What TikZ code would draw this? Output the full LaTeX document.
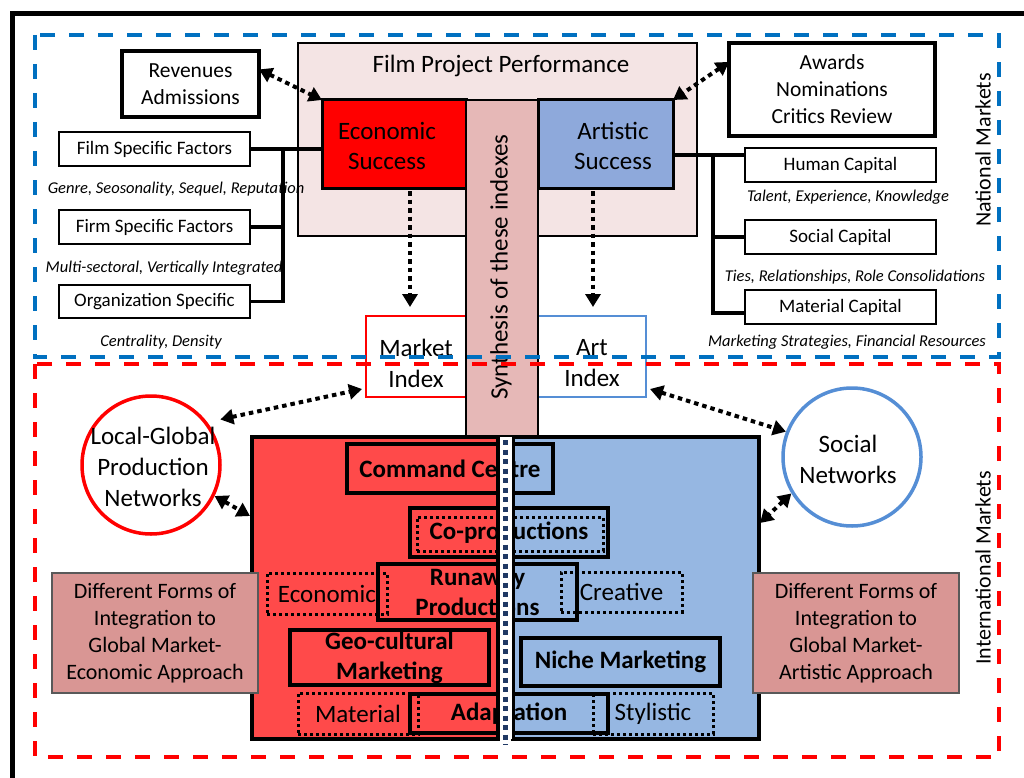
\documentclass[tikz,border=0pt]{standalone}
\usepackage{fontspec}
\setmainfont{Carlito}
\usetikzlibrary{arrows.meta,calc}

\definecolor{fppfill}{RGB}{244,228,228}
\definecolor{synthfill}{RGB}{230,184,183}
\definecolor{econfill}{RGB}{255,0,0}
\definecolor{artfill}{RGB}{142,169,219}
\definecolor{lowred}{RGB}{255,74,74}
\definecolor{lowblue}{RGB}{150,183,226}
\definecolor{formfill}{RGB}{217,150,148}
\definecolor{natblue}{RGB}{0,112,192}
\definecolor{intred}{RGB}{255,0,0}
\definecolor{mktred}{RGB}{255,0,0}
\definecolor{circblue}{RGB}{85,142,213}
\definecolor{navy}{RGB}{31,56,100}

\newcommand\setfs[2]{\fontsize{#1}{#2}\selectfont}

\begin{document}
\begin{tikzpicture}[x=1pt,y=-1pt,
  rbox/.style={draw, anchor=north west, inner sep=0pt, outer sep=0pt, align=center},
  factor/.style={rbox, line width=1.5pt, fill=white, minimum width=191pt, minimum height=34pt, font=\setfs{19}{23}},
  note/.style={inner sep=0pt, font=\itshape\setfs{16.5}{20}},
  bigtext/.style={align=center, inner sep=0pt, font=\setfs{25}{31}},
  inbox/.style={rbox, line width=3.5pt, font=\bfseries\setfs{25}{30}},
  dotbox/.style={rbox, line width=3pt, dash pattern=on 3pt off 3pt, font=\setfs{25}{30}},
  bus/.style={line width=3.5pt},
  tipA/.tip={Triangle[length=13pt,width=15pt]},
  dotlink/.style={line width=4pt, dash pattern=on 4.5pt off 4pt, tipA-tipA},
  dotdown/.style={line width=4pt, dash pattern=on 4.5pt off 4pt, -tipA},
  formbox/.style={rbox, draw=black!65, line width=1.5pt, fill=formfill, minimum width=206pt, minimum height=120pt, font=\setfs{22}{27}},
  region/.style={line width=4pt, dash pattern=on 15pt off 14pt}
]
\useasboundingbox (0,0) rectangle (1024,778);

% outer frame
\draw[line width=5pt] (1024,13.5) -- (12.5,13.5) -- (12.5,778);

% film project performance panel
\node[rbox, fill=fppfill, line width=2.5pt, minimum width=399pt, minimum height=193pt] (fpp) at (298,43) {};
\node[font=\setfs{25}{30}, inner sep=0pt] (fpptitle) at (501,66) {Film Project Performance};
\node[rbox, fill=econfill, line width=3pt, minimum width=144pt, minimum height=88pt] (econ) at (322,100) {};
\node[bigtext, font=\setfs{25}{30}] (econtext) at (387,146) {Economic\\Success};
\node[rbox, fill=artfill, line width=3pt, minimum width=135pt, minimum height=88pt] (art) at (538,100) {};
\node[bigtext, font=\setfs{25}{30}] (arttext) at (613,146) {Artistic\\Success};

% outcome boxes
\node[rbox, line width=3.5pt, fill=white, minimum width=137pt, minimum height=66pt, font=\setfs{21.5}{27}] (rev) at (122,51) {Revenues\\Admissions};
\node[rbox, line width=4pt, fill=white, minimum width=206pt, minimum height=93pt, font=\setfs{21.5}{27}] (awards) at (729,43) {Awards\\Nominations\\Critics Review};

% economic factors
\node[factor] (fsf) at (59,132) {Film Specific Factors};
\node[factor] (firm) at (59,210) {Firm Specific Factors};
\node[factor, minimum height=33pt] (org) at (59,285) {Organization Specific};
\node[note] (fsfnote) at (176,189) {Genre, Seosonality, Sequel, Reputation};
\node[note] (firmnote) at (164,268) {Multi-sectoral, Vertically Integrated};
\node[note] (orgnote) at (161,342) {Centrality, Density};

% artistic factors
\node[factor] (hum) at (745,148) {Human Capital};
\node[factor] (soc) at (745,220) {Social Capital};
\node[factor] (mat) at (745,290) {Material Capital};
\node[note] (humnote) at (848,197) {Talent, Experience, Knowledge};
\node[note] (socnote) at (855,277) {Ties, Relationships, Role Consolidations};
\node[note] (matnote) at (847,342) {Marketing Strategies, Financial Resources};

% factor buses
\coordinate (lbus) at (283,0);
\coordinate (rbus) at (713,0);
\draw[bus] (fsf.east) -- (fsf.east -| econ.west);
\draw[bus] (fsf.east -| lbus) |- (org.east);
\draw[bus] (firm.east) -- (firm.east -| lbus);
\path ($(art.east)+(0,11)$) coordinate (rj);
\draw[bus] (rj) -- (rj -| hum.west);
\draw[bus] (rj -| rbus) |- ($(mat.west)+(0,6)$);
\draw[bus] (soc.west) -- (soc.west -| rbus);

% index boxes
\node[rbox, draw=mktred, line width=2.5pt, fill=white, minimum width=100pt, minimum height=81pt] (mkt) at (366,316) {};
\node[bigtext] (mkttext) at (416,363) {Market\\Index};
\node[rbox, draw=circblue, line width=2.5pt, fill=white, minimum width=108pt, minimum height=81pt] (artidx) at (538,316) {};
\node[bigtext] (artidxtext) at (592,363) {Art\\Index};

% global integration block
\node[rbox, fill=lowred, line width=3.5pt, minimum width=246pt, minimum height=302pt] (red) at (252,437) {};
\node[rbox, fill=lowblue, line width=3.5pt, minimum width=246pt, minimum height=302pt] (blue) at (513,437) {};

\node[inbox, minimum width=206pt, minimum height=49pt] (cmd) at (347,444) {Command Centre};
\node[dotbox, minimum width=186pt, minimum height=34pt] (coprodin) at (417,517) {};
\node[inbox, minimum width=198pt, minimum height=49pt] (coprod) at (410,508) {Co-productions};
\node[dotbox, minimum width=120pt, minimum height=41pt] (ecodot) at (267,573) {Economic};
\node[dotbox, minimum width=121pt, minimum height=40pt] (credot) at (561,572) {Creative};
\node[inbox, minimum width=199pt, minimum height=56pt] (runaway) at (378,564) {Runaway\\Productions};
\node[inbox, minimum width=199pt, minimum height=55pt] (geo) at (290,630) {Geo-cultural\\Marketing};
\node[inbox, minimum width=199pt, minimum height=48pt] (niche) at (521,638) {Niche Marketing};
\node[dotbox, minimum width=120pt, minimum height=41pt] (matdot) at (298,693) {Material};
\node[dotbox, minimum width=120pt, minimum height=41pt] (stydot) at (593,693) {Stylistic};
\node[inbox, minimum width=198pt, minimum height=39pt] (adapt) at (410,694) {Adaptation};

% separating strip
\node[rbox, draw=none, fill=white, minimum width=15pt, minimum height=302pt] (strip) at (498,437) {};
\draw[line width=3pt] (strip.north west) -- (strip.south west);
\draw[line width=3pt] (strip.north east) -- (strip.south east);
\draw[navy, line width=5pt, dash pattern=on 5pt off 4.5pt] ($(strip.north)+(0,3)$) -- ($(strip.south)+(0,6)$);

% synthesis column
\node[rbox, fill=synthfill, line width=2.5pt, minimum width=72pt, minimum height=336pt] (synth) at (466,100) {};
\node[rotate=90, font=\setfs{25}{30}, inner sep=0pt] (synthtext) at (501,267) {Synthesis of these indexes};

% networks
\node[circle, draw=mktred, line width=3.5pt, minimum size=138pt, inner sep=0pt] (lg) at (151,465) {};
\node[bigtext] (lgtext) at (153,467) {Local-Global\\Production\\Networks};
\node[circle, draw=circblue, line width=3.5pt, minimum size=138pt, inner sep=0pt] (sn) at (852,457) {};
\node[bigtext] (sntext) at (848,459) {Social\\Networks};

% integration approaches
\node[formbox] (formL) at (52,573) {Different Forms of\\Integration to\\Global Market-\\Economic Approach};
\node[formbox] (formR) at (753,573) {Different Forms of\\Integration to\\Global Market-\\Artistic Approach};

% dotted links
\draw[dotlink] (rev.12) -- (econ.north west);
\draw[dotlink] (awards.165) -- (art.north east);
\draw[dotdown] ($(econ.south)+(16,3)$) -- ($(mkt.north)+(-6,-9)$);
\draw[dotdown] ($(art.south)+(-12.5,3)$) -- ($(artidx.north)+(1,-9)$);
\draw[dotlink] ($(lg.33)+(10,-7)$) -- ($(mkt.south west)+(-4,-8)$);
\draw[dotlink] (lg.-26) -- ($(red.west)+(-2,-72)$);
\draw[dotlink] ($(artidx.south east)+(4,-8)$) -- (sn.159);
\draw[dotlink] (sn.211) -- ($(blue.east)+(1,-65)$);

% market scopes
\node[rotate=90, font=\setfs{22}{26}, inner sep=0pt] (natlabel) at (983,150) {National Markets};
\node[rotate=90, font=\setfs{22}{26}, inner sep=0pt] (intlabel) at (983,568) {International Markets};
\draw[region, intred] (35,364) rectangle (999,757);
\draw[region, natblue] (35,35) rectangle (999,357);
\end{tikzpicture}
\end{document}
